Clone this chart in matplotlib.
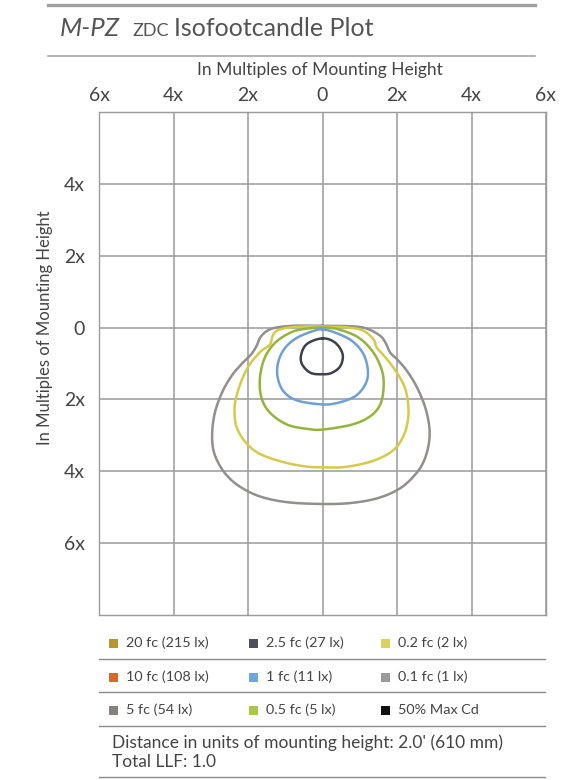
import numpy as np
import matplotlib
matplotlib.use("Agg")
import matplotlib.pyplot as plt
from matplotlib.lines import Line2D
from matplotlib.patches import Rectangle

plt.rcParams['font.family'] = ['Lato', 'DejaVu Sans']

W, H = 582, 780

# ---- axis ticks -------------------------------------------------------------
x_ticks = [-6, -4, -2, 0, 2, 4, 6]
x_tick_labels = ['6x', '4x', '2x', '0', '2x', '4x', '6x']
y_ticks = [4, 2, 0, -2, -4, -6]
y_tick_labels = ['4x', '2x', '0', '2x', '4x', '6x']

# ---- isofootcandle contours (multiples of mounting height) -----------------
fc01_x = [0, -0.8, -1.36, -1.64, -1.77, -1.91, -2.14, -2.41, -2.68, -2.88, -2.96,
          -2.94, -2.82, -2.59, -2.23, -1.68, -0.95, 0, 0.79, 1.51, 2.09, 2.49,
          2.72, 2.85, 2.87, 2.76, 2.54, 2.27, 2.0, 1.82, 1.69, 1.55, 1.24, 0.88]
fc01_y = [0.05, 0.05, -0.03, -0.23, -0.51, -0.74, -0.98, -1.30, -1.77, -2.33, -2.88,
          -3.35, -3.72, -4.09, -4.42, -4.70, -4.86, -4.91, -4.88, -4.74, -4.47, -4.09,
          -3.72, -3.26, -2.79, -2.23, -1.67, -1.21, -0.88, -0.70, -0.42, -0.23, -0.05, 0.03]

fc02_x = [0, -0.7, -1.14, -1.32, -1.41, -1.64, -1.95, -2.18, -2.34, -2.36, -2.30,
          -2.09, -1.73, -1.14, -0.5, 0, 0.61, 1.33, 1.87, 2.15, 2.29, 2.30, 2.21,
          2.0, 1.73, 1.46, 1.37, 1.10, 0.70]
fc02_y = [0.03, 0.02, -0.05, -0.19, -0.47, -0.65, -1.02, -1.49, -2.05, -2.42, -2.79,
          -3.16, -3.49, -3.72, -3.86, -3.89, -3.88, -3.72, -3.44, -3.07, -2.60, -2.14, -1.67,
          -1.26, -0.88, -0.56, -0.33, -0.09, 0.0]

fc05_x = [0, -0.5, -0.86, -1.27, -1.55, -1.68, -1.64, -1.41, -0.95, -0.41, 0,
          0.79, 1.28, 1.55, 1.64, 1.60, 1.37, 0.97, 0.43]
fc05_y = [0.0, -0.04, -0.14, -0.42, -0.84, -1.40, -1.95, -2.37, -2.70, -2.82, -2.84,
          -2.70, -2.47, -2.14, -1.67, -1.21, -0.70, -0.28, -0.05]

fc1_x = [0, -0.23, -0.68, -1.0, -1.18, -1.21, -1.05, -0.68, 0, 0.43, 0.88, 1.15,
         1.22, 1.10, 0.79, 0.34]
fc1_y = [-0.05, -0.09, -0.28, -0.56, -0.93, -1.35, -1.77, -2.03, -2.14, -2.09, -1.91,
         -1.58, -1.21, -0.74, -0.37, -0.14]

fc25_x = [0, -0.41, -0.57, -0.55, -0.32, 0, 0.25, 0.48, 0.54, 0.34]
fc25_y = [-0.30, -0.45, -0.74, -1.02, -1.26, -1.30, -1.26, -1.07, -0.74, -0.42]

# ---- legend -----------------------------------------------------------------
legend_labels = [
    ['20 fc (215 lx)', '2.5 fc (27 lx)', '0.2 fc (2 lx)'],
    ['10 fc (108 lx)', '1 fc (11 lx)', '0.1 fc (1 lx)'],
    ['5 fc (54 lx)', '0.5 fc (5 lx)', '50% Max Cd'],
]
legend_colors = [
    ['#b8962e', '#4d4f5a', '#ddd05a'],
    ['#d9682a', '#6ea6e0', '#9a9a9a'],
    ['#8a7f7f', '#a8c84a', '#111111'],
]

C_GRID = '#9a9a9a'
C_TEXT = '#444444'


def smooth_closed(xs, ys, n=24):
    """Closed Catmull-Rom path through the given points."""
    P = np.column_stack([xs, ys]).astype(float)
    N = len(P)
    t = np.linspace(0, 1, n, endpoint=False)[:, None]
    segs = []
    for i in range(N):
        p0, p1, p2, p3 = P[(i - 1) % N], P[i], P[(i + 1) % N], P[(i + 2) % N]
        segs.append(0.5 * (2 * p1 + (-p0 + p2) * t
                           + (2 * p0 - 5 * p1 + 4 * p2 - p3) * t ** 2
                           + (-p0 + 3 * p1 - 3 * p2 + p3) * t ** 3))
    out = np.vstack(segs + [P[:1]])
    return out[:, 0], out[:, 1]


def px(x):
    return x / W


def py(y):
    return 1 - y / H


fig = plt.figure(figsize=(W / 100, H / 100), dpi=100)
fig.patch.set_facecolor('white')

# header rules and title
fig.add_artist(Line2D([px(48), px(535)], [py(5), py(5)], color='#a0a0a0', lw=2.4))
fig.add_artist(Line2D([px(48), px(535)], [py(56), py(56)], color='#9c9c9c', lw=1.1))
fig.text(px(60), py(36), 'M-PZ', fontsize=18.5, style='italic', color='#555555',
         va='baseline', ha='left')
fig.text(px(132), py(36), 'ZDC', fontsize=13, color='#555555',
         va='baseline', ha='left')
fig.text(px(174), py(36), 'Isofootcandle Plot', fontsize=18, color='#555555',
         va='baseline', ha='left')

# plot area
ax = fig.add_axes([px(99), py(615), (546 - 99) / W, (615 - 112) / H])
ax.set_xlim(-6, 6)
ax.set_ylim(-8, 6)
ax.xaxis.tick_top()
ax.set_xticks(x_ticks)
ax.set_xticklabels(x_tick_labels)
ax.set_yticks(y_ticks)
ax.set_yticklabels(y_tick_labels)
ax.tick_params(length=0, labelsize=14, labelcolor=C_TEXT)
ax.tick_params(axis='x', pad=6)
ax.tick_params(axis='y', pad=10)
for s in ax.spines.values():
    s.set_color(C_GRID)
    s.set_linewidth(1.0)
ax.grid(True, color=C_GRID, lw=1.1)
ax.set_axisbelow(True)

fig.text(px(320), py(70), 'In Multiples of Mounting Height', fontsize=12.5,
         color=C_TEXT, ha='center', va='center')
fig.text(px(45), py(328), 'In Multiples of Mounting Height', fontsize=12,
         color=C_TEXT, ha='center', va='center', rotation=90)

contours = [
    (fc01_x, fc01_y, '#928f8c'),
    (fc02_x, fc02_y, '#d6c94c'),
    (fc05_x, fc05_y, '#92b53a'),
    (fc1_x, fc1_y, '#6f9fd5'),
    (fc25_x, fc25_y, '#3c414c'),
]
for xs, ys, c in contours:
    sx, sy = smooth_closed(xs, ys)
    ax.plot(sx, sy, color=c, lw=1.8, solid_joinstyle='round', zorder=3)

# legend block
row_y = [643, 677, 710]
sep_y = [659, 692, 726, 777]
col_sq = [113, 253, 385]
col_tx = [126, 266, 398]
for r, yy in enumerate(row_y):
    for c in range(3):
        fig.add_artist(Rectangle((px(col_sq[c] - 4.5), py(yy + 4.5)), 9 / W, 9 / H,
                                 facecolor=legend_colors[r][c], edgecolor='none'))
        fig.text(px(col_tx[c]), py(yy), legend_labels[r][c], fontsize=10.4,
                 color=C_TEXT, ha='left', va='center')
for yy in sep_y:
    fig.add_artist(Line2D([px(99), px(545)], [py(yy), py(yy)], color='#8a8a8a', lw=1.0))

fig.text(px(112), py(743), "Distance in units of mounting height: 2.0' (610 mm)",
         fontsize=12.5, color=C_TEXT, ha='left', va='center')
fig.text(px(112), py(762), 'Total LLF: 1.0', fontsize=12.5, color=C_TEXT,
         ha='left', va='center')

fig.savefig('out.png', dpi=100, facecolor='white')
